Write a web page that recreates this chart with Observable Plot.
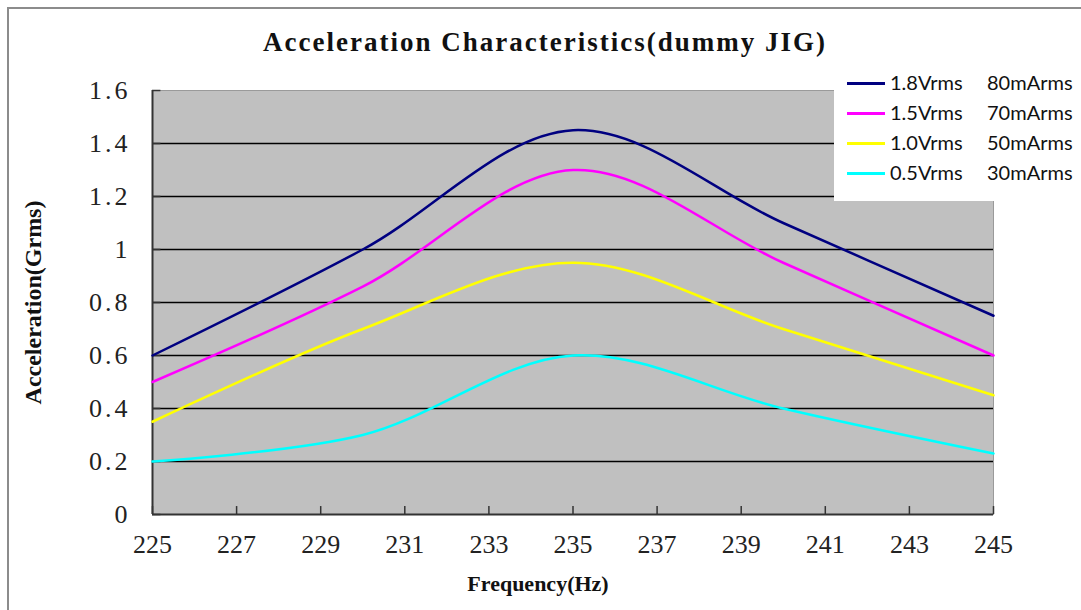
<!DOCTYPE html>
<html><head><meta charset="utf-8">
<script src="https://cdn.jsdelivr.net/npm/d3@7"></script>
<script src="https://cdn.jsdelivr.net/npm/@observablehq/plot@0.6"></script>
<style>
body{margin:0;background:#fff;}
#wrap{position:relative;width:1081px;height:610px;overflow:hidden;background:#fff;}
#frame{position:absolute;left:7px;top:7px;width:1200px;height:700px;border-left:2px solid #8c8c8c;border-top:2px solid #8c8c8c;pointer-events:none;}
#title{position:absolute;left:0;top:0;width:1090px;height:70px;text-align:center;}
#title span{display:inline-block;margin-top:29px;font-family:"Liberation Serif",serif;font-weight:bold;font-size:27px;line-height:27px;letter-spacing:2px;color:#111;}
#chart{position:absolute;left:0;top:70px;}
#legend{position:absolute;left:834px;top:62px;width:260px;height:139px;background:#fff;font-family:Lato,"Noto Sans",sans-serif;font-size:20px;color:#111;}
.item{position:absolute;left:0;height:24px;width:260px;}
.sw{position:absolute;left:13px;top:11px;width:38px;height:3px;}
.t1{position:absolute;left:56px;top:-1px;}
.t2{position:absolute;left:153px;top:-1px;}
</style>
</head><body>
<div id="wrap">
  <div id="title"><span></span></div>
  <div id="chart"></div>
  <div id="legend"></div>
  <div id="frame"></div>
</div>
<script>
// ---- data ----
const freq = [225, 230, 235, 240, 245];
const voltages = ["1.8Vrms", "1.5Vrms", "1.0Vrms", "0.5Vrms"];
const currents = ["80mArms", "70mArms", "50mArms", "30mArms"];
const accel18 = [0.60, 1.00, 1.45, 1.10, 0.75];
const accel15 = [0.50, 0.86, 1.30, 0.95, 0.60];
const accel10 = [0.35, 0.70, 0.95, 0.70, 0.45];
const accel05 = [0.20, 0.30, 0.60, 0.40, 0.23];
const colors = ["#000080", "#ff00ff", "#ffff00", "#00ffff"];
const xTicks = [225, 227, 229, 231, 233, 235, 237, 239, 241, 243, 245];
const yTicks = [0, 0.2, 0.4, 0.6, 0.8, 1.0, 1.2, 1.4, 1.6];
const titleText = "Acceleration Characteristics(dummy JIG)";
const xLabel = "Frequency(Hz)";
const yLabel = "Acceleration(Grms)";

const seriesValues = [accel18, accel15, accel10, accel05];
const names = voltages.map((v, i) => v + " " + currents[i]);
const rows = [];
seriesValues.forEach((vals, i) => vals.forEach((v, j) => rows.push({f: freq[j], a: v, s: names[i]})));

const fmt = d => (d === 0 ? "0" : d === 1 ? "1" : d.toFixed(1));

const chart = Plot.plot({
  width: 1081,
  height: 540,
  marginTop: 20,
  marginBottom: 96,
  marginLeft: 152,
  marginRight: 88,
  style: {fontFamily: "'Liberation Serif', serif", fontSize: "26px", color: "#222", background: "transparent"},
  x: {domain: [225, 245]},
  y: {domain: [0, 1.6]},
  color: {domain: names, range: colors},
  marks: [
    Plot.frame({fill: "#c0c0c0", stroke: "#9a9a9a"}),
    Plot.ruleY(yTicks.filter(d => d > 0 && d < 1.6), {stroke: "#000", strokeWidth: 1.5}),
    Plot.ruleY(yTicks, {x1: 225, x2: 225.2, stroke: "#333", strokeWidth: 1.5}),
    Plot.ruleX(xTicks, {y1: 0, y2: 0.03, stroke: "#333", strokeWidth: 1.5}),
    Plot.ruleY([0], {stroke: "#333", strokeWidth: 2}),
    Plot.ruleX([225], {stroke: "#333", strokeWidth: 2}),
    Plot.axisX({ticks: xTicks, tickSize: 0, tickPadding: 20, label: null, tickFormat: d => String(d)}),
    Plot.axisY({ticks: yTicks, tickSize: 0, tickPadding: 22, label: null, tickFormat: fmt}),
    Plot.line(rows, {x: "f", y: "a", z: "s", stroke: "s", strokeWidth: 2.5, curve: "catmull-rom"}),
    Plot.text([xLabel], {frameAnchor: "bottom", dy: 76, dx: -35, fontWeight: "bold", fontSize: 22, fill: "#111", ariaLabel: "xlab"}),
    Plot.text([yLabel], {frameAnchor: "left", textAnchor: "middle", dx: -119, rotate: -90, fontWeight: "bold", fontSize: 24, fill: "#111", ariaLabel: "ylab"})
  ]
});
document.getElementById("chart").appendChild(chart);
d3.select(chart).selectAll("g[aria-label='y-axis tick label'] text").attr("letter-spacing", "3px");
d3.select(chart).selectAll("g[aria-label='xlab'] text").attr("letter-spacing", "2px");
d3.select(chart).selectAll("g[aria-label='ylab'] text").attr("letter-spacing", "3.5px");
document.querySelector("#title span").textContent = titleText;

const legend = document.getElementById("legend");
const tops = [9, 38.5, 68.5, 98.5];
voltages.forEach((v, i) => {
  const item = document.createElement("div");
  item.className = "item";
  item.style.top = tops[i] + "px";
  item.innerHTML = `<div class="sw" style="background:${colors[i]}"></div><span class="t1">${v}</span><span class="t2">${currents[i]}</span>`;
  legend.appendChild(item);
});
</script>
</body></html>
